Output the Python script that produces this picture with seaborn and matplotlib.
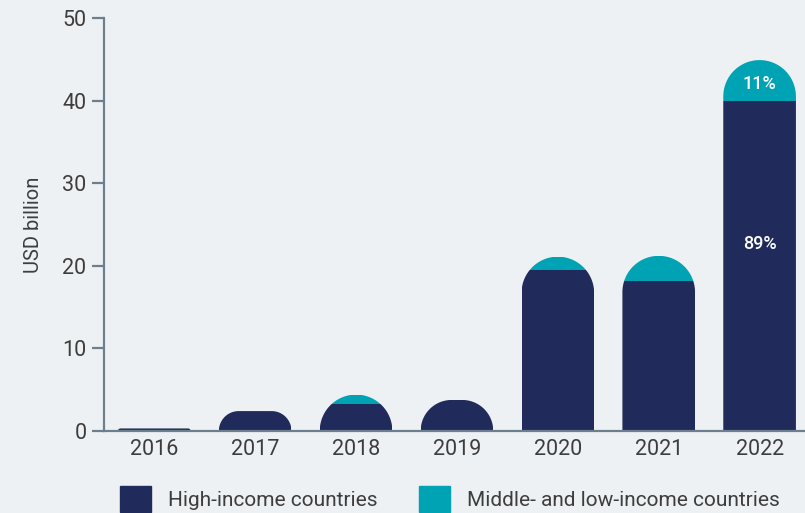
import numpy as np
import pandas as pd
import seaborn as sns
import matplotlib.pyplot as plt
from matplotlib.path import Path
from matplotlib.patches import Patch

# Datos (USD billion)
years = ["2016", "2017", "2018", "2019", "2020", "2021", "2022"]
high_income = [0.3, 2.4, 3.3, 3.75, 19.5, 18.1, 40.0]
mid_low_income = [0.0, 0.0, 1.1, 0.0, 1.6, 3.1, 4.9]

navy = "#202a5b"
teal = "#00a3b4"
bg = "#eef1f3"
text_col = "#3d3d3d"
spine_col = "#6b7f8e"

df = pd.DataFrame({"year": years, "high": high_income, "mid": mid_low_income})
df["total"] = df["high"] + df["mid"]

sns.set_theme(style="white")
plt.rcParams["font.family"] = ["Roboto", "DejaVu Sans"]

fig = plt.figure(figsize=(8.05, 5.13), dpi=100, facecolor=bg)
ax = fig.add_axes([0.129, 0.16, 0.871, 0.805])
ax.set_facecolor(bg)

bar_w = 0.72
sns.barplot(data=df, x="year", y="high", color=navy, width=bar_w, saturation=1, ax=ax)
n_high = len(ax.patches)
sns.barplot(data=df, x="year", y="mid", color=teal, width=bar_w, saturation=1, ax=ax)

# apilar la parte media/baja encima de la parte alta
for k, bar in enumerate(ax.patches[n_high:]):
    xc = bar.get_x() + bar.get_width() / 2
    i = int(round(xc))
    bar.set_y(df["high"][i])

ax.set_xlim(-0.5, 6.45)
ax.set_ylim(0, 50)
ax.set_yticks(range(0, 51, 10))

# Forma redondeada arriba para cada barra
fig.canvas.draw()
px_x = ax.transData.transform((1, 0))[0] - ax.transData.transform((0, 0))[0]
px_y = ax.transData.transform((0, 1))[1] - ax.transData.transform((0, 0))[1]

def rounded_top(xc, h):
    x0, x1 = xc - bar_w / 2, xc + bar_w / 2
    r_px = min(bar_w / 2 * px_x, h * px_y)
    rx, ry = r_px / px_x, r_px / px_y
    t = np.linspace(0, np.pi / 2, 30)
    right = np.column_stack([x1 - rx + rx * np.cos(t), h - ry + ry * np.sin(t)])
    left = np.column_stack([x0 + rx - rx * np.sin(t), h - ry + ry * np.cos(t)])
    pts = np.vstack([[x0, 0], [x1, 0], right, left, [x0, 0]])
    return Path(pts)

for bar in ax.patches:
    xc = bar.get_x() + bar.get_width() / 2
    i = int(round(xc))
    bar.set_clip_path(rounded_top(xc, df["total"][i]), ax.transData)
    bar.set_edgecolor("none")

# Porcentajes para 2022
last = df.iloc[-1]
ax.text(6, 22.6, f"{last['high'] / last['total'] * 100:.0f}%", color="white",
        ha="center", va="center", fontsize=13, fontweight="medium")
ax.text(6, last["high"] + 2.0, f"{last['mid'] / last['total'] * 100:.0f}%", color="white",
        ha="center", va="center", fontsize=13, fontweight="medium")

for s in ["top", "right"]:
    ax.spines[s].set_visible(False)
for s in ["left", "bottom"]:
    ax.spines[s].set_color(spine_col)
    ax.spines[s].set_linewidth(1.6)

ax.tick_params(axis="y", left=True, length=8.5, width=1.6, color=spine_col,
               labelsize=15.5, labelcolor=text_col, pad=4)
ax.tick_params(axis="x", bottom=False, labelsize=15.5, labelcolor=text_col, pad=0)
ax.set_xlabel("")
ax.set_ylabel("USD billion", fontsize=14.5, color=text_col, labelpad=14)

handles = [Patch(color=navy, label="High-income countries"),
           Patch(color=teal, label="Middle- and low-income countries")]
fig.legend(handles=handles, loc="center", bbox_to_anchor=(0.559, 0.027), ncol=2,
           frameon=False, fontsize=15, labelcolor=text_col, handlelength=1.5,
           handleheight=1.5, handletextpad=0.8, columnspacing=2.0)

fig.savefig("out.png", dpi=100, facecolor=bg)
